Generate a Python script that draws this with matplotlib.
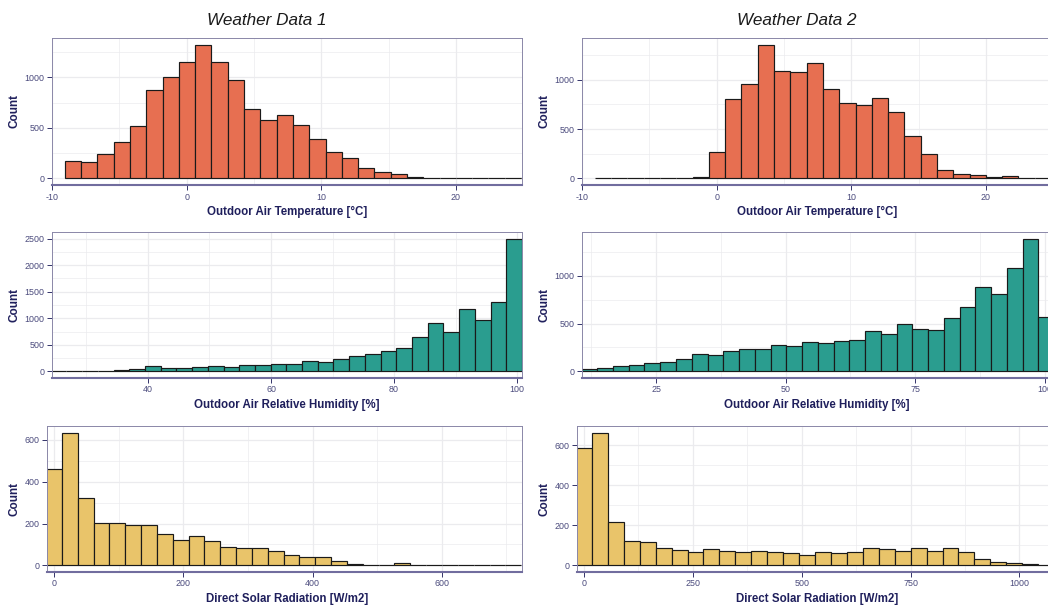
import numpy as np
import matplotlib
matplotlib.use("Agg")
import matplotlib.pyplot as plt
from matplotlib.ticker import FixedLocator, AutoMinorLocator

plt.rcParams["font.family"] = ["Liberation Sans", "DejaVu Sans"]
plt.rcParams["axes.unicode_minus"] = False

# ---------------- histogram data (bin start, bin width, counts) ----------------
temp1_start, temp1_width = -9.05, 1.21
temp1_counts = [175, 162, 238, 364, 517, 877, 1000, 1149, 1325, 1149, 970, 685,
                579, 629, 526, 387, 262, 205, 103, 63, 43, 17, 0, 0, 0, 0, 0, 0, 0, 0]

temp2_start, temp2_width = -9.05, 1.21
temp2_counts = [0, 0, 0, 0, 0, 0, 17, 271, 803, 956, 1356, 1088, 1081, 1173, 908,
                763, 749, 820, 675, 434, 251, 85, 44, 34, 17, 24, 0, 0, 0, 0]

rh1_start, rh1_width = 24.2, 2.553
rh1_counts = [3, 12, 12, 12, 30, 50, 94, 69, 56, 81, 94, 88, 113, 113, 144, 144,
              188, 175, 225, 294, 331, 388, 444, 644, 906, 744, 1181, 969, 1306, 2500]

rh2_start, rh2_width = 10.6, 3.04
rh2_counts = [28, 38, 52, 70, 87, 98, 129, 181, 171, 209, 233, 233, 275, 268, 310,
              300, 321, 331, 425, 394, 495, 442, 432, 554, 679, 885, 812, 1080, 1390, 571]

sol1_start, sol1_width = -12.25, 24.5
sol1_counts = [463, 635, 324, 205, 205, 195, 195, 151, 120, 141, 118, 88, 82, 82, 68,
               50, 42, 38, 19, 6, 1, 4, 10, 0, 0, 0, 0, 3, 3, 3]

sol2_start, sol2_width = -18.3, 36.6
sol2_counts = [587, 663, 219, 120, 118, 86, 78, 65, 80, 73, 65, 70, 68, 62, 52, 68,
               62, 65, 86, 83, 73, 85, 73, 85, 65, 33, 15, 12, 9, 4]

titles = ["Weather Data 1", "Weather Data 2"]
xlabels = ["Outdoor Air Temperature [°C]", "Outdoor Air Relative Humidity [%]",
           "Direct Solar Radiation [W/m2]"]
ylabel = "Count"

temp_ticks = [-10, 0, 10, 20]
rh1_ticks = [40, 60, 80, 100]
rh2_ticks = [25, 50, 75, 100]
sol1_ticks = [0, 200, 400, 600]
sol2_ticks = [0, 250, 500, 750, 1000]

# ---------------- styling ----------------
C_TEMP = "#E76F51"
C_RH = "#2A9D8F"
C_SOL = "#E9C46A"
EDGE = "#1a1a1a"
GRID = "#ebebee"
BORDER = "#8a87a8"
AXISLINE = "#716d9e"
TICKCOL = "#33336a"
TICKLAB = "#4a4a7c"
TITLECOL = "#1f1f5c"

W, H = 1048, 610
fig = plt.figure(figsize=(W / 100, H / 100), dpi=100)
fig.patch.set_facecolor("white")


def add_panel(left, top, right, bottom):
    return fig.add_axes([left / W, 1 - bottom / H, (right - left) / W, (bottom - top) / H])


def style(ax, xticks, yticks, xlim, ymax):
    ax.set_xlim(*xlim)
    ax.set_ylim(-0.05 * ymax, 1.05 * ymax)
    ax.xaxis.set_major_locator(FixedLocator(xticks))
    ax.yaxis.set_major_locator(FixedLocator(yticks))
    ax.xaxis.set_minor_locator(AutoMinorLocator(2))
    ax.yaxis.set_minor_locator(AutoMinorLocator(2))
    ax.set_axisbelow(True)
    ax.grid(which="major", color=GRID, lw=0.9)
    ax.grid(which="minor", color=GRID, lw=0.5)
    ax.tick_params(which="minor", length=0)
    ax.tick_params(which="major", length=3.6, width=0.7, color=TICKCOL,
                   labelsize=6.4, labelcolor=TICKLAB, pad=1.8)
    for s in ("top", "left", "right"):
        ax.spines[s].set_color(BORDER)
        ax.spines[s].set_linewidth(0.7)
    ax.spines["bottom"].set_color(AXISLINE)
    ax.spines["bottom"].set_linewidth(1.5)


def hist(ax, start, width, counts, color):
    edges = start + width * np.arange(len(counts))
    ax.bar(edges, counts, width=width, align="edge", color=color,
           edgecolor=EDGE, linewidth=0.85)


rows = [(38, 185), (232, 378), (426, 572)]
panels = [
    # (row, col, start, width, counts, color, ticks, yticks, xlim, left_px)
    (0, 0, temp1_start, temp1_width, temp1_counts, C_TEMP, temp_ticks, [0, 500, 1000], (-10, 24.9), 52),
    (0, 1, temp2_start, temp2_width, temp2_counts, C_TEMP, temp_ticks, [0, 500, 1000], (-10, 24.9), 582),
    (1, 0, rh1_start, rh1_width, rh1_counts, C_RH, rh1_ticks, [0, 500, 1000, 1500, 2000, 2500], (24.4, 100.8), 52),
    (1, 1, rh2_start, rh2_width, rh2_counts, C_RH, rh2_ticks, [0, 500, 1000], (10.7, 101.4), 582),
    (2, 0, sol1_start, sol1_width, sol1_counts, C_SOL, sol1_ticks, [0, 200, 400, 600], (-10.8, 724), 47),
    (2, 1, sol2_start, sol2_width, sol2_counts, C_SOL, sol2_ticks, [0, 200, 400, 600], (-16, 1075), 577),
]

for row, col, start, width, counts, color, xt, yt, xlim, left in panels:
    top, bottom = rows[row]
    right = 522 if col == 0 else 1052
    ax = add_panel(left, top, right, bottom)
    hist(ax, start, width, counts, color)
    style(ax, xt, yt, xlim, max(counts))
    # axis titles
    fig.text(((52 + 522) / 2 if col == 0 else (582 + 1052) / 2) / W, 1 - (bottom + 27) / H,
             xlabels[row], ha="center", va="center", fontsize=8.3,
             fontweight="bold", color=TITLECOL)
    fig.text((15 if col == 0 else 545) / W, 1 - ((top + bottom) / 2) / H, ylabel,
             rotation=90, ha="center", va="center", fontsize=8.5,
             fontweight="bold", color=TITLECOL)

for i, t in enumerate(titles):
    fig.text((267 + 530 * i) / W, 1 - 25 / H, t, ha="center", va="baseline",
             fontsize=12.3, fontstyle="italic", color="#1a1a1a")

fig.savefig("out.png", dpi=100, facecolor="white")
